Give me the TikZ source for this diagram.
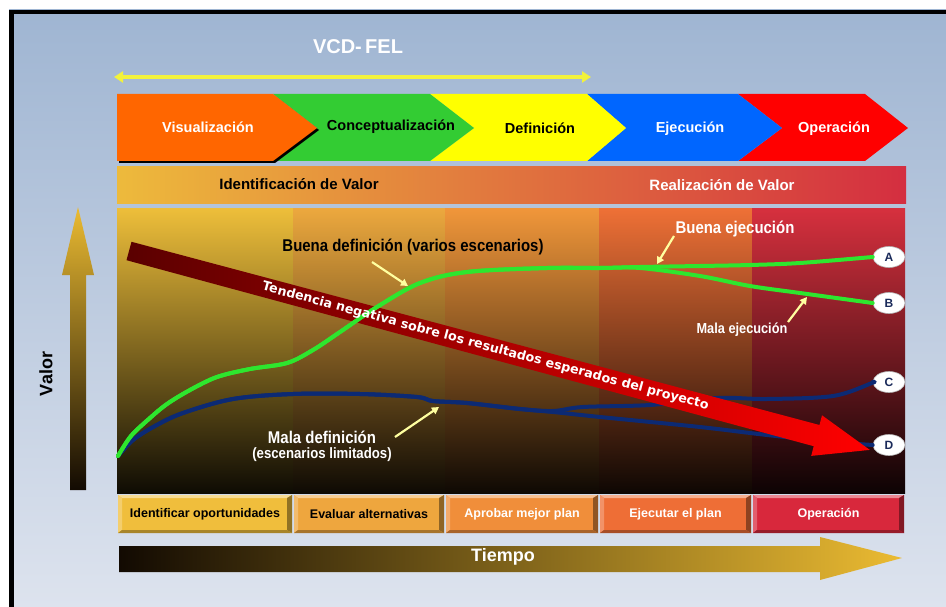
\documentclass[tikz,border=0pt]{standalone}
\usepackage{fontspec}
\setmainfont{Liberation Sans}
\newfontfamily\nar[FakeStretch=0.88]{Liberation Sans}
\newfontfamily\dvs{DejaVu Sans}
\usetikzlibrary{shapes.geometric,arrows.meta}
\definecolor{bgtop}{HTML}{9FB5D2}
\definecolor{bgbot}{HTML}{DDE3EE}
\definecolor{fel}{HTML}{F2F23C}
\definecolor{chor}{HTML}{FF6600}
\definecolor{chgr}{HTML}{33CC33}
\definecolor{chye}{HTML}{FFFF00}
\definecolor{chbl}{HTML}{0066FF}
\definecolor{chre}{HTML}{FF0000}
\definecolor{vl}{HTML}{EDBA3C}
\definecolor{vm}{HTML}{E8923A}
\definecolor{vr}{HTML}{D42E40}
\definecolor{c1}{HTML}{EDBE3A}
\definecolor{c2}{HTML}{ECA83E}
\definecolor{c3}{HTML}{F0963A}
\definecolor{c4}{HTML}{EE7036}
\definecolor{c5}{HTML}{D6303E}
\definecolor{b1}{HTML}{F0BE3C}
\definecolor{b2}{HTML}{EEA63E}
\definecolor{b3}{HTML}{F08E3A}
\definecolor{b4}{HTML}{EE6E36}
\definecolor{b5}{HTML}{D8283C}
\definecolor{tdark}{HTML}{5A0000}
\definecolor{tmid}{HTML}{B00008}
\definecolor{tred}{HTML}{FF0000}
\definecolor{lgreen}{HTML}{2EE62E}
\definecolor{navy}{HTML}{0C2A74}
\definecolor{navytxt}{HTML}{1A2A5A}
\definecolor{callyel}{HTML}{FFFFA0}
\definecolor{gold}{HTML}{EBBB32}
\definecolor{goldmid}{HTML}{A07A2A}
\definecolor{nearblack}{HTML}{120A02}
\begin{document}
\begin{tikzpicture}[x=1pt,y=-1pt,
  lbl/.style={font=\nar\bfseries\fontsize{17}{19}\selectfont, inner sep=0},
  phase/.style={font=\bfseries\fontsize{14.5}{16}\selectfont, inner sep=0},
  band/.style={font=\bfseries\fontsize{15}{17}\selectfont, inner sep=0},
  boxtxt/.style={font=\bfseries\fontsize{12.5}{14}\selectfont, inner sep=0},
  callout/.style={draw=callyel, line width=2.2pt, -{Triangle[length=7pt,width=7.5pt]}},
  endpt/.style={ellipse, fill=white, draw=gray!60, line width=0.6pt, minimum width=32pt, minimum height=21pt, inner sep=0, font=\bfseries\fontsize{12}{12}\selectfont, text=navytxt},
  gline/.style={draw=lgreen, line width=4pt, line cap=round, line join=round},
  bline/.style={draw=navy, line width=4pt, line cap=round, line join=round},
]
\useasboundingbox (0,0) rectangle (946,607);
\fill[white] (0,0) rectangle (946,607);
\shade[top color=bgtop, bottom color=bgbot] (9,10) rectangle (946,607);
\fill[black] (9,10) rectangle (946,14);
\fill[black] (9,10) rectangle (14,607);

% title and FEL span
\node[font=\bfseries\fontsize{20}{22}\selectfont, text=white] (vcd) at (358,47) {VCD-\,FEL};
\coordinate (fa) at (114,77);
\coordinate (fb) at (591,77);
\draw[draw=fel, line width=4pt, {Triangle[length=9pt,width=11pt]}-{Triangle[length=9pt,width=11pt]}] (fa) -- (fb);

% chevrons
\fill[chre] (738,94) -- (865,94) -- (908,128) -- (865,161) -- (738,161) -- (782,128) -- cycle;
\fill[chbl] (587,94) -- (738,94) -- (782,128) -- (738,161) -- (587,161) -- (626,128) -- cycle;
\fill[chye] (430,94) -- (587,94) -- (626,128) -- (587,161) -- (430,161) -- (474,128) -- cycle;
\fill[chgr] (273,94) -- (430,94) -- (474,128) -- (430,161) -- (273,161) -- (317,128) -- cycle;
\fill[black] (119,96) -- (275,96) -- (319,130) -- (275,163) -- (119,163) -- cycle;
\fill[chor] (117,94) -- (273,94) -- (317,128) -- (273,161) -- (117,161) -- cycle;
\node[phase, text=white] (p1) at (208,127) {Visualización};
\node[phase, text=black] (p2) at (391,127) {Conceptualización};
\node[phase, text=black] (p3) at (540,128) {Definición};
\node[phase, text=white] (p4) at (690,129) {Ejecución};
\node[phase, text=white] (p5) at (834,129) {Operación};

% value band
\shade[left color=vl, middle color=vm, right color=vr] (117,167) rectangle (906,204);
\node[band, text=black] (idv) at (299,184) {Identificación de Valor};
\node[band, text=white] (rdv) at (722,185) {Realización de Valor};

% panel columns
\foreach \xa/\xb/\c in {117/293/c1, 293/445/c2, 445/599/c3, 599/752/c4, 752/905/c5}{
  \shade[top color=\c, middle color=\c!62!black, bottom color=\c!6!black] (\xa,209) rectangle (\xb,493);
}

% bottom bevel boxes
\foreach \xa/\xb/\c/\t/\tc/\n in {118/292/b1/Identificar oportunidades/black/s1, 294/444/b2/Evaluar alternativas/black/s2, 446/598/b3/Aprobar mejor plan/white/s3, 600/751/b4/Ejecutar el plan/white/s4, 753/904/b5/Operación/white/s5}{
  \fill[\c] (\xa,495) rectangle (\xb,533);
  \fill[\c!55!white] (\xa,495) -- (\xb,495) -- (\xb-4,498) -- (\xa+4,498) -- cycle;
  \fill[\c!75!white] (\xa,495) -- (\xa+4,498) -- (\xa+4,530) -- (\xa,533) -- cycle;
  \fill[\c!60!black] (\xb,495) -- (\xb,533) -- (\xb-5,530) -- (\xb-5,498) -- cycle;
  \fill[\c!70!black] (\xa,533) -- (\xb,533) -- (\xb-5,530) -- (\xa+4,530) -- cycle;
  \node[boxtxt, text=\tc] (\n) at ({(\xa+\xb)/2},514) {\t};
}

% time arrow
\shade[left color=nearblack, middle color=goldmid, right color=gold]
  (119,546) -- (820,546) -- (820,537) -- (902,558) -- (820,580) -- (820,572) -- (119,572) -- cycle;
\node[font=\bfseries\fontsize{18}{20}\selectfont, text=white, inner sep=0] (tiempo) at (503,557) {Tiempo};

% value arrow
\shade[top color=gold, middle color=goldmid, bottom color=nearblack]
  (70,490) -- (70,275) -- (62,275) -- (78,207) -- (94,275) -- (86,275) -- (86,490) -- cycle;
\node[rotate=90, font=\bfseries\fontsize{18}{20}\selectfont, inner sep=0] (valor) at (46,374) {Valor};

% end labels
\node[endpt] (A) at (889,257) {A};
\node[endpt] (B) at (889,303) {B};
\node[endpt] (C) at (889,382) {C};
\node[endpt] (D) at (889,445) {D};

% navy curves
\draw[bline] plot[smooth, tension=0.55] coordinates {(118,456) (133,440) (155,426) (183,413) (233,399) (293,394) (360,394) (417,397) (433,401) (467,403) (520,409) (553,411) (583,407) (650,405) (717,398) (767,399) (833,396) (872,383) (C.west)};
\draw[bline] plot[smooth, tension=0.55] coordinates {(118,456) (133,440) (155,426) (183,413) (233,399) (293,394) (360,394) (417,397) (433,401) (467,403) (520,409) (553,412) (600,417) (700,427) (767,435) (833,442) (D.west)};

% trend arrow
\shade[left color=tdark, middle color=tmid, right color=tred]
  (131.5,241.8) -- (819.5,425.0) -- (822.0,415.3) -- (869.8,449.9) -- (811.2,455.9) -- (813.7,446.2) -- (126.5,260.2) -- cycle;

% green curves
\draw[gline] plot[smooth, tension=0.55] coordinates {(118,456) (131,436) (150,418) (167,404) (190,390) (217,377) (250,369) (287,363) (313,350) (340,332) (377,307) (420,283) (467,272) (547,268) (600,268) (640,267) (700,266) (750,265) (800,263) (A.west)};
\draw[gline] plot[smooth, tension=0.55] coordinates {(118,456) (131,436) (150,418) (167,404) (190,390) (217,377) (250,369) (287,363) (313,350) (340,332) (377,307) (420,283) (467,272) (547,268) (600,268) (640,268) (700,276) (750,286) (800,293) (B.west)};

\node[rotate=-15.03, text=white, font=\dvs\bfseries\fontsize{12.7}{14}\selectfont, inner sep=0] (trend) at (485.5,346.5) {Tendencia negativa sobre los resultados esperados del proyecto};

% labels
\node[lbl, text=black] (bd) at (413,247) {Buena definición (varios escenarios)};
\node[lbl, text=white] (be) at (735,229) {Buena ejecución};
\node[lbl, text=white, font=\nar\bfseries\fontsize{14.5}{16}\selectfont] (me) at (742,330) {Mala ejecución};
\node[lbl, text=white] (md) at (322,437) {Mala definición};
\node[lbl, text=white, font=\nar\bfseries\fontsize{15}{17}\selectfont] (mdl) at (322,455) {(escenarios limitados)};

% callouts
\coordinate (bd1) at (372,262); \coordinate (bd2) at (408,286);
\coordinate (be1) at (674,236); \coordinate (be2) at (657,264);
\coordinate (me1) at (788,322); \coordinate (me2) at (807,297);
\coordinate (md1) at (395,437); \coordinate (md2) at (439,407);
\draw[callout] (bd1) -- (bd2);
\draw[callout] (be1) -- (be2);
\draw[callout] (me1) -- (me2);
\draw[callout] (md1) -- (md2);
\end{tikzpicture}
\end{document}
